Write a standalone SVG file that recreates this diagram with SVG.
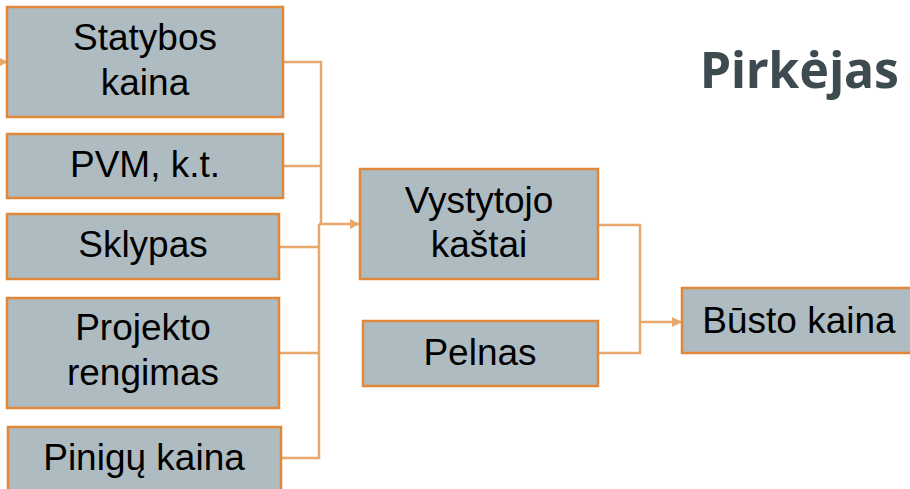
<svg xmlns="http://www.w3.org/2000/svg" width="910" height="489" viewBox="0 0 910 489">
<defs>
<style>
.box{fill:#aebcc2;stroke:#e0873a;stroke-width:2.5}
.t{font-family:"Liberation Sans",Arial,sans-serif;font-size:37px;fill:#000;text-anchor:middle}
.c{fill:none;stroke:#e8a86c;stroke-width:2.5}
.title{font-family:"Noto Sans",sans-serif;font-weight:bold;font-size:50px;fill:#3d4a50}
</style>
<marker id="ah" markerWidth="10" markerHeight="10" refX="9" refY="5" orient="auto" markerUnits="userSpaceOnUse" viewBox="0 0 10 10">
<path d="M0,0 L10,5 L0,10 z" fill="#e8a86c"/>
</marker>
</defs>
<rect width="910" height="489" fill="#fff"/>
<text class="title" x="700" y="88">Pirkėjas</text>
<g id="connectors">
<path class="c" d="M-2,62 L7,62" marker-end="url(#ah)"/>
<path class="c" d="M283,62 H321 V224"/>
<path class="c" d="M283,166 H321"/>
<path class="c" d="M279,247 H319"/>
<path class="c" d="M279,353 H319"/>
<path class="c" d="M281,458 H319 V224"/>
<path class="c" d="M319,224 H359" marker-end="url(#ah)"/>
<path class="c" d="M598,225 H640 V353 H598"/>
<path class="c" d="M640,322 H681" marker-end="url(#ah)"/>
</g>
<g id="statybos">
<rect class="box" x="7" y="7" width="276" height="110"/>
<text class="t" x="145" y="50">Statybos</text>
<text class="t" x="145" y="95">kaina</text>
</g>
<g id="pvm">
<rect class="box" x="7" y="134" width="276" height="64"/>
<text class="t" x="145" y="177">PVM, k.t.</text>
</g>
<g id="sklypas">
<rect class="box" x="7" y="214" width="272" height="65"/>
<text class="t" x="143" y="257">Sklypas</text>
</g>
<g id="projekto">
<rect class="box" x="7" y="298" width="272" height="110"/>
<text class="t" x="143" y="340">Projekto</text>
<text class="t" x="143" y="385">rengimas</text>
</g>
<g id="pinigu">
<rect class="box" x="8" y="427" width="273" height="80"/>
<text class="t" x="144" y="470">Pinigų kaina</text>
</g>
<g id="vystytojo">
<rect class="box" x="360" y="169" width="238" height="110"/>
<text class="t" x="479" y="213">Vystytojo</text>
<text class="t" x="479" y="257">kaštai</text>
</g>
<g id="pelnas">
<rect class="box" x="363" y="321" width="235" height="65"/>
<text class="t" x="480" y="365">Pelnas</text>
</g>
<g id="busto">
<rect class="box" x="682" y="288" width="240" height="65"/>
<text class="t" x="799" y="333">Būsto kaina</text>
</g>
</svg>
